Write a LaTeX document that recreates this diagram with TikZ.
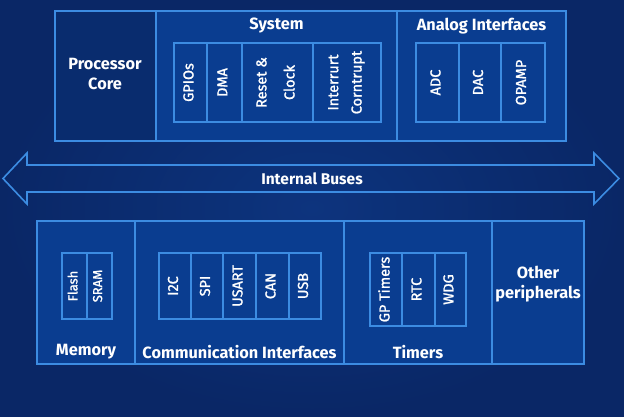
\documentclass[tikz,border=0pt]{standalone}
\usepackage{fontspec}
\setmainfont{Fira Sans}
\newfontfamily\medfont{Fira Sans}[FakeBold=1.3]
\usetikzlibrary{positioning}
\definecolor{bgblue}{HTML}{0A2766}
\definecolor{bgglow}{HTML}{0D347E}
\definecolor{boxblue}{HTML}{0A3D90}
\definecolor{coreblue}{HTML}{092C6E}
\definecolor{lineblue}{HTML}{3C8CE2}
\newcommand{\vlabel}[1]{\rotatebox{90}{\begin{tabular}{@{}c@{}}#1\end{tabular}}}

\begin{document}
\begin{tikzpicture}[x=1pt, y=-1pt, every node/.style={text=white}]
\tikzstyle{block}=[rectangle, draw=lineblue, line width=1.6pt, fill=boxblue, anchor=north west, inner sep=0pt, outer sep=0pt]
\tikzstyle{cell}=[rectangle, draw=lineblue, line width=1.4pt, inner sep=0pt, outer sep=0pt, font=\medfont\fontsize{14.5}{14}\selectfont]
\tikzstyle{title}=[inner sep=0pt, align=center, font=\fontsize{16.3}{20}\selectfont\bfseries]
\useasboundingbox (0,0) rectangle (624,416);
\shade[inner color=bgglow, outer color=bgblue] (0,0) rectangle (624,416);
% upper row
\node[block, fill=coreblue, minimum width=101, minimum height=130] (core) at (55,11) {};
\node[title] at (105,74) {Processor\\Core};
\node[block, minimum width=241, minimum height=130] (system) at (156,11) {};
\node[block, minimum width=169, minimum height=130] (analog) at (397,11) {};
\node[title, below=7pt of system.north] (systitle) {System};
\node[title, below=7pt of analog.north] (antitle) {Analog Interfaces};
\node[cell, anchor=north west, minimum width=33, minimum height=79] (gpio) at (174,43) {\vlabel{GPIOs}};
\node[cell, right=0pt of gpio, minimum width=35, minimum height=79] (dma) {\vlabel{DMA}};
\node[cell, right=0pt of dma, minimum width=71, minimum height=79] (reset) {\vlabel{Reset \&\\[13pt]Clock}};
\node[cell, right=0pt of reset, minimum width=68, minimum height=79] (irq) {\vlabel{Interrurt\\[9pt]Corntrupt}};
\node[cell, anchor=north west, minimum width=43, minimum height=79] (adc) at (416,43) {\vlabel{ADC}};
\node[cell, right=0pt of adc, minimum width=42, minimum height=79] (dac) {\vlabel{DAC}};
\node[cell, right=0pt of dac, minimum width=44, minimum height=79] (opamp) {\vlabel{OPAMP}};
% internal buses
\node[title, font=\fontsize{15.5}{18}\selectfont\bfseries] (bus) at (312,179) {Internal Buses};
\draw[lineblue, line width=1.6pt, line join=miter] (3,178.5) -- (27,153) -- (27,165) -- (594,165) -- (594,153) -- (619,178.5) -- (594,204) -- (594,192) -- (27,192) -- (27,204) -- cycle;
% lower row
\node[block, minimum width=98, minimum height=143] (memory) at (37,221) {};
\node[block, minimum width=209, minimum height=143] (comm) at (135,221) {};
\node[block, minimum width=148, minimum height=143] (timers) at (344,221) {};
\node[block, minimum width=92, minimum height=143] (other) at (492,221) {};
\node[title] at (538,284) {Other\\peripherals};
\node[title, above=5pt of memory.south] (memtitle) {Memory};
\node[title, above=5pt of comm.south] (commtitle) {Communication Interfaces};
\node[title, above=5pt of timers.south] (timtitle) {Timers};
\node[cell, anchor=north west, minimum width=25, minimum height=66, font=\medfont\fontsize{13}{13}\selectfont] (flash) at (62,253) {\vlabel{Flash}};
\node[cell, right=0pt of flash, minimum width=25, minimum height=66, font=\medfont\fontsize{13}{13}\selectfont] (sram) {\vlabel{SRAM}};
\node[cell, anchor=north west, minimum width=32, minimum height=66] (i2c) at (159,253) {\vlabel{I2C}};
\node[cell, right=0pt of i2c, minimum width=32, minimum height=66] (spi) {\vlabel{SPI}};
\node[cell, right=0pt of spi, minimum width=33, minimum height=66] (usart) {\vlabel{USART}};
\node[cell, right=0pt of usart, minimum width=33, minimum height=66] (can) {\vlabel{CAN}};
\node[cell, right=0pt of can, minimum width=32, minimum height=66] (usb) {\vlabel{USB}};
\node[cell, anchor=north west, minimum width=32, minimum height=73] (gptim) at (370,253) {\vlabel{GP Timers}};
\node[cell, right=0pt of gptim, minimum width=33, minimum height=73] (rtc) {\vlabel{RTC}};
\node[cell, right=0pt of rtc, minimum width=31, minimum height=73] (wdg) {\vlabel{WDG}};
\end{tikzpicture}
\end{document}
